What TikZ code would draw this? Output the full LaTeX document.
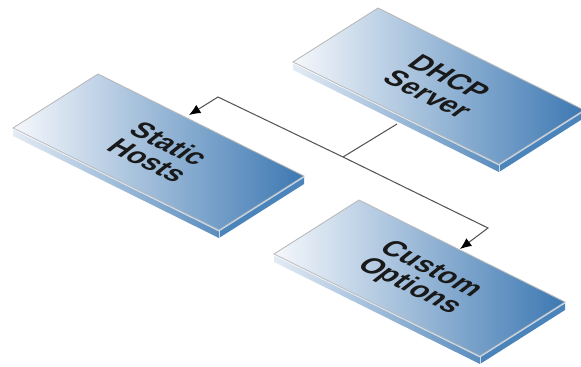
\documentclass[tikz,border=0pt]{standalone}
\usepackage{fontspec}
\setmainfont{Liberation Sans}
\usetikzlibrary{arrows.meta}
\definecolor{slabhi}{HTML}{F6F8FC}
\definecolor{slablo}{HTML}{3C78B2}
\definecolor{slabside}{HTML}{4A84BB}
\definecolor{wire}{HTML}{555555}

\begin{document}
\begin{tikzpicture}[
    x=0.02cm, y=-0.02cm,
    slabface/.style={left color=slabhi, right color=slablo, draw=gray!55, line width=0.5pt},
    slableft/.style={left color=slabhi!90!slablo, right color=slablo!85!white},
    slabright/.style={fill=slabside},
    slabedge/.style={draw=white, opacity=0.7, line width=0.5pt},
    slabtext/.style={font=\bfseries\fontsize{16}{15.5}\selectfont, align=center, text=black!90,
                     cm={0.896,-0.444,0.788,0.616,(0,0)}},
    pics/slab/.style={code={
        \shade[slableft] (0,0) -- (206,102) -- (206,110) -- (0,8) -- cycle;
        \fill[slabright] (206,102) -- (291,48) -- (291,56) -- (206,110) -- cycle;
        \shadedraw[slabface] (0,0) coordinate (-l) -- (85,-54) coordinate (-t)
            -- (291,48) coordinate (-r) -- (206,102) coordinate (-b) -- cycle;
        \draw[slabedge] (0,1) -- (206,103) -- (291,49);
        \draw[slabedge] (206,103) -- (206,110);
        \node[slabtext] (-text) at (145.5,24) {#1};
    }},
    arr/.style={-{Latex[length=6.5pt, width=5.5pt, color=black]}, draw=wire, line width=0.6pt}
]
\useasboundingbox (0,0) rectangle (581,366);

% Slabs
\pic (dhcp)  at (293,62)  {slab={DHCP\\Server}};
\pic (hosts) at (13,128)  {slab={Static\\Hosts}};
\pic (opts)  at (274,254) {slab={Custom\\Options}};

% Connector points
\coordinate (dhcp-out)   at (397,124);
\coordinate (junction)   at (343,157);
\coordinate (hosts-bend) at (218,97);
\coordinate (hosts-in)   at (189,115);
\coordinate (opts-bend)  at (488,228);
\coordinate (opts-in)    at (460,249);

% Connectors
\draw[draw=wire, line width=0.6pt] (dhcp-out) -- (junction);
\draw[arr] (junction) -- (hosts-bend) -- (hosts-in);
\draw[arr] (junction) -- (opts-bend) -- (opts-in);
\end{tikzpicture}
\end{document}
